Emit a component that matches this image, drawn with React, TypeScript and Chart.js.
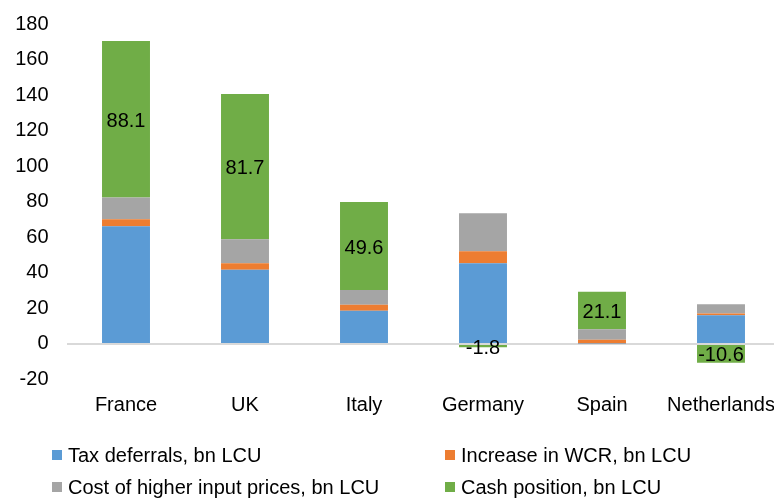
import React, { useEffect, useRef } from "react";
import { Chart, registerables } from "chart.js";

Chart.register(...registerables);

const categories = ["France", "UK", "Italy", "Germany", "Spain", "Netherlands"];
const taxDeferrals = [66.2, 41.8, 18.7, 45.4, 0.3, 16.2];
const increaseWCR = [3.9, 3.6, 3.4, 6.7, 2.0, 1.0];
const inputPrices = [12.3, 13.5, 8.2, 21.4, 5.9, 5.2];
const cashPosition = [88.1, 81.7, 49.6, -1.8, 21.1, -10.6];

const seriesNames = [
  "Tax deferrals, bn LCU",
  "Increase in WCR, bn LCU",
  "Cost of higher input prices, bn LCU",
  "Cash position, bn LCU",
];
const seriesColors = ["#5B9BD5", "#ED7D31", "#A5A5A5", "#70AD47"];

const FONT = "'Liberation Sans', Arial, sans-serif";

const labelPlugin = {
  id: "cashLabels",
  afterDatasetsDraw(chart: any) {
    const ctx = chart.ctx;
    const meta = chart.getDatasetMeta(3);
    ctx.save();
    ctx.font = `20px ${FONT}`;
    ctx.fillStyle = "#000";
    ctx.textAlign = "center";
    ctx.textBaseline = "middle";
    meta.data.forEach((el: any, i: number) => {
      const { x, y, base } = el.getProps(["x", "y", "base"], true);
      ctx.fillText(cashPosition[i].toFixed(1), x, (y + base) / 2 + 2);
    });
    ctx.restore();
  },
};

export default function App() {
  const ref = useRef<HTMLCanvasElement | null>(null);
  useEffect(() => {
    if (!ref.current) return;
    const data = [taxDeferrals, increaseWCR, inputPrices, cashPosition];
    const chart = new Chart(ref.current, {
      type: "bar",
      data: {
        labels: categories,
        datasets: data.map((d, i) => ({
          label: seriesNames[i],
          data: d,
          backgroundColor: seriesColors[i],
          borderWidth: 0,
          barPercentage: 0.403,
          categoryPercentage: 1,
        })),
      },
      options: {
        responsive: false,
        animation: false,
        layout: { padding: { top: 24, bottom: 80.5, left: 0, right: 1.5 } },
        plugins: { legend: { display: false }, tooltip: { enabled: false } },
        scales: {
          x: {
            stacked: true,
            grid: { display: false, drawTicks: false },
            border: { display: false },
            ticks: { color: "#000", font: { family: FONT, size: 20 }, padding: 14, maxRotation: 0, autoSkip: false },
            afterFit(scale: any) {
              scale.height = 38;
              scale.paddingLeft = 0;
              scale.paddingRight = 0;
            },
          },
          y: {
            stacked: true,
            min: -20,
            max: 180,
            ticks: { stepSize: 20, color: "#000", font: { family: FONT, size: 20 }, padding: 18 },
            grid: {
              drawTicks: false,
              color: (c: any) => (c.tick && c.tick.value === 0 ? "#d9d9d9" : "rgba(0,0,0,0)"),
              lineWidth: 2,
            },
            border: { display: false },
            afterFit(scale: any) {
              scale.width = 66.5;
              scale.paddingTop = 0;
              scale.paddingBottom = 0;
            },
          },
        },
      },
      plugins: [labelPlugin],
    });
    return () => chart.destroy();
  }, []);

  const legendItem = (i: number, left: number, top: number) => (
    <div
      key={i}
      style={{
        position: "absolute",
        left,
        top,
        height: 24,
        display: "flex",
        alignItems: "center",
        fontFamily: FONT,
        fontSize: 20,
        color: "#000",
        whiteSpace: "nowrap",
        lineHeight: "24px",
      }}
    >
      <span style={{ display: "inline-block", width: 10, height: 10, background: seriesColors[i], marginRight: 6 }} />
      <span>{seriesNames[i]}</span>
    </div>
  );

  return (
    <div style={{ position: "fixed", left: 0, top: 0, width: 774, height: 498, overflow: "hidden", background: "#fff" }}>
      <canvas ref={ref} width={782} height={498} style={{ position: "absolute", left: 0, top: 0, width: 782, height: 498 }} />
      {legendItem(0, 52, 443)}
      {legendItem(1, 445, 443)}
      {legendItem(2, 52, 475)}
      {legendItem(3, 445, 475)}
    </div>
  );
}
